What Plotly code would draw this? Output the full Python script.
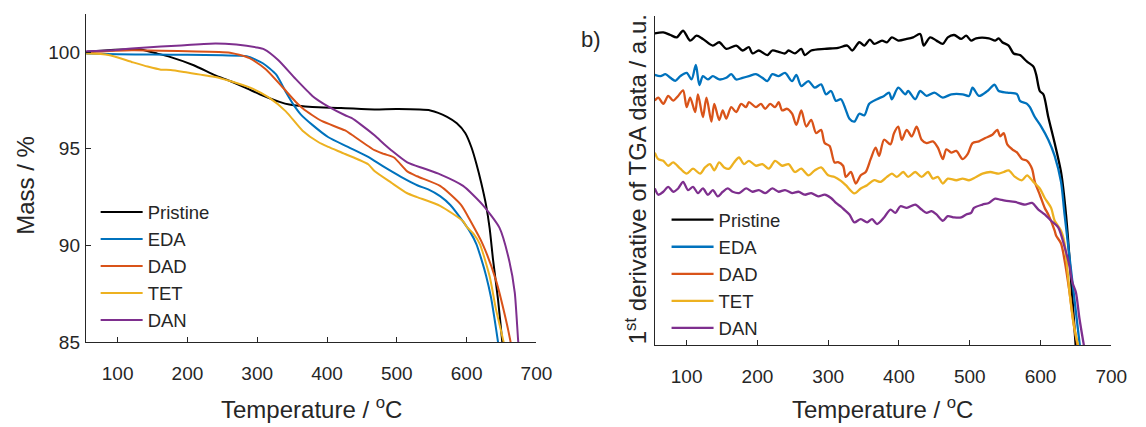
import plotly.graph_objects as go

FONT = "Liberation Sans, Arial, Helvetica, sans-serif"
TXT = "#262626"

names = ["Pristine", "EDA", "DAD", "TET", "DAN"]
colors = ["#000000", "#0072BD", "#D95319", "#EDB120", "#7E2F8E"]

# ---------- (a) TGA mass curves: temperature (degC) and mass (%) ----------
tga_pristine_T = [55, 96, 130, 157, 176, 209, 240, 261, 285, 308, 332, 346, 379, 420, 468, 500, 548, 572, 586, 598, 607, 614, 621, 628, 633, 638, 645, 651, 653]
tga_pristine_m = [100.02, 100.13, 100.15, 99.93, 99.75, 99.33, 98.8, 98.51, 98.13, 97.76, 97.43, 97.29, 97.16, 97.12, 97.04, 97.06, 96.99, 96.66, 96.32, 95.82, 95.07, 94.23, 93.23, 92.06, 90.89, 89.22, 87.21, 85.04, 84.3]

tga_eda_T = [55, 100, 150, 200, 250, 285, 308, 327, 341, 351, 362, 379, 402, 430, 459, 480, 506, 530, 545, 562, 577, 595, 605, 614, 621, 628, 635, 640, 645, 648]
tga_eda_m = [99.93, 99.9, 99.88, 99.87, 99.84, 99.8, 99.43, 98.85, 97.94, 97.34, 96.8, 96.24, 95.6, 95.1, 94.58, 94.1, 93.55, 93.1, 92.9, 92.55, 92.08, 91.23, 90.7, 90.07, 89.3, 88.42, 87.3, 86.2, 85.0, 84.3]

tga_dad_T = [55, 120, 200, 261, 289, 313, 336, 355, 365, 379, 393, 426, 435, 468, 482, 496, 515, 529, 562, 592, 605, 623, 642, 656, 663, 666]
tga_dad_m = [100.0, 100.1, 100.05, 99.98, 99.7, 99.1, 98.2, 97.44, 97.1, 96.74, 96.43, 95.95, 95.74, 94.93, 94.73, 94.55, 93.83, 93.58, 93.08, 92.1, 91.3, 90.07, 88.2, 86.2, 85.0, 84.3]

tga_tet_T = [55, 87, 120, 143, 162, 176, 200, 240, 261, 289, 317, 341, 365, 388, 402, 426, 459, 468, 492, 515, 529, 562, 595, 600, 610, 619, 633, 642, 653, 656]
tga_tet_m = [99.93, 99.86, 99.5, 99.26, 99.1, 99.08, 98.95, 98.72, 98.51, 98.18, 97.65, 96.94, 95.94, 95.34, 95.1, 94.73, 94.2, 93.85, 93.25, 92.7, 92.5, 92.05, 91.25, 90.97, 90.6, 90.07, 88.4, 86.7, 85.0, 84.3]

tga_dan_T = [55, 91, 120, 162, 191, 240, 270, 299, 310, 330, 355, 379, 388, 402, 426, 435, 449, 468, 482, 492, 515, 539, 562, 595, 623, 647, 661, 669, 674, 676]
tga_dan_m = [100.05, 100.1, 100.2, 100.3, 100.35, 100.46, 100.4, 100.25, 100.15, 99.6, 98.62, 97.74, 97.5, 97.19, 96.74, 96.6, 96.24, 95.7, 95.24, 94.93, 94.3, 93.98, 93.68, 93.08, 92.1, 90.92, 89.22, 87.56, 85.0, 84.3]

# ---------- (b) first derivative of TGA data (arbitrary units, offset) ----------
dtg_pristine_T = [55, 67, 77, 86, 95, 105, 114, 123, 137, 146, 156, 170, 179, 188, 193, 202, 214, 221, 230, 239, 244, 253, 262, 267, 276, 295, 314, 327, 334, 344, 351, 359, 365, 376, 383, 390, 399, 411, 420, 430, 435, 444, 453, 462, 469, 478, 488, 495, 502, 509, 527, 536, 541, 546, 555, 562, 571, 581, 590, 594, 599, 604, 611, 620, 629, 636, 650]
dtg_pristine_v = [94.6, 94.9, 94.1, 93.4, 95.4, 92.4, 93.9, 92.9, 90.9, 91.9, 89.9, 90.9, 89.4, 90.4, 88.5, 89.4, 88.0, 89.4, 89.0, 88.5, 89.4, 88.5, 89.9, 88.0, 89.4, 89.9, 90.2, 90.9, 89.4, 91.9, 90.9, 92.7, 91.4, 92.4, 91.9, 93.4, 92.4, 92.9, 93.4, 94.4, 90.9, 93.4, 92.4, 91.4, 93.4, 94.1, 92.9, 93.9, 92.4, 93.1, 93.1, 92.4, 93.1, 91.9, 90.9, 88.5, 88.0, 86.0, 84.5, 82.0, 77.1, 76.1, 69.2, 61.3, 52.5, 39.6, -1.0]

dtg_eda_T = [55, 63, 70, 77, 84, 91, 100, 107, 113, 118, 123, 130, 137, 146, 156, 163, 170, 179, 188, 198, 207, 214, 221, 230, 239, 249, 255, 262, 272, 281, 290, 297, 304, 311, 318, 325, 330, 337, 344, 351, 358, 369, 379, 386, 390, 399, 409, 413, 423, 430, 439, 450, 462, 474, 490, 499, 504, 513, 525, 535, 541, 553, 567, 571, 581, 585, 592, 601, 611, 620, 629, 634, 656]
dtg_eda_v = [82.0, 81.6, 82.2, 81.1, 80.2, 81.6, 82.6, 80.6, 85.0, 78.9, 81.6, 80.6, 81.6, 80.6, 81.1, 82.2, 80.6, 81.1, 81.6, 82.2, 81.1, 80.1, 82.2, 81.6, 82.6, 80.1, 82.0, 78.6, 80.1, 78.1, 79.1, 76.1, 77.1, 74.1, 74.6, 71.3, 68.7, 67.8, 70.2, 69.7, 73.2, 74.6, 75.6, 76.6, 74.6, 78.1, 76.1, 77.1, 74.6, 77.1, 75.6, 76.6, 75.1, 76.1, 76.1, 75.6, 78.1, 75.6, 77.1, 79.0, 77.1, 76.6, 76.1, 74.1, 73.2, 72.2, 69.2, 66.3, 62.3, 57.4, 49.5, 39.6, -1.0]

dtg_dad_T = [55, 60, 67, 74, 81, 88, 95, 100, 105, 112, 116, 123, 128, 135, 139, 146, 151, 156, 163, 170, 177, 184, 188, 198, 205, 211, 218, 225, 230, 235, 242, 249, 255, 262, 269, 276, 283, 290, 295, 302, 309, 314, 321, 325, 332, 339, 346, 353, 360, 367, 372, 379, 388, 393, 399, 404, 411, 418, 425, 432, 439, 448, 455, 462, 467, 474, 481, 490, 497, 504, 513, 522, 532, 539, 543, 548, 553, 560, 567, 574, 581, 588, 592, 599, 606, 611, 620, 622, 629, 634, 641, 647, 653]
dtg_dad_v = [74.2, 75.1, 73.2, 75.6, 74.2, 75.6, 77.3, 72.2, 75.1, 70.7, 76.1, 69.2, 75.1, 67.8, 73.2, 68.3, 71.2, 68.7, 72.2, 70.7, 73.2, 72.2, 73.7, 72.2, 73.2, 71.7, 73.2, 72.2, 73.7, 71.2, 71.7, 70.2, 66.8, 71.2, 66.3, 68.3, 64.3, 65.3, 61.3, 60.4, 55.4, 55.5, 54.4, 51.0, 52.5, 49.0, 51.5, 52.5, 56.4, 59.9, 57.4, 62.3, 60.9, 64.3, 66.3, 62.3, 65.3, 63.3, 66.3, 62.3, 61.3, 61.8, 59.9, 56.4, 59.4, 58.4, 58.9, 56.4, 57.9, 61.3, 61.8, 62.8, 63.8, 65.3, 63.3, 64.3, 60.9, 59.4, 58.4, 56.4, 55.9, 53.5, 49.5, 45.6, 41.6, 39.6, 34.7, 33.2, 30.8, 25.7, 16.0, 6.2, -1.0]

dtg_tet_T = [55, 60, 67, 74, 81, 91, 100, 109, 119, 126, 133, 139, 146, 153, 160, 167, 174, 181, 188, 198, 207, 216, 225, 235, 244, 253, 262, 272, 281, 290, 300, 309, 318, 325, 337, 346, 355, 365, 374, 383, 390, 397, 406, 413, 423, 432, 441, 448, 455, 462, 469, 481, 490, 499, 509, 518, 529, 541, 548, 555, 564, 574, 581, 590, 599, 606, 615, 620, 629, 634, 641, 647, 654]
dtg_tet_v = [58.4, 56.4, 55.9, 54.4, 55.4, 53.5, 52.0, 53.5, 52.0, 53.9, 54.9, 53.0, 55.4, 53.9, 53.5, 55.4, 56.9, 54.9, 55.9, 54.4, 54.9, 53.5, 55.9, 54.4, 54.9, 52.5, 53.5, 51.5, 53.0, 53.9, 51.5, 51.0, 49.8, 48.5, 46.0, 47.5, 48.5, 50.0, 49.5, 51.0, 52.0, 51.0, 52.5, 51.0, 52.5, 51.0, 52.5, 50.5, 51.0, 49.0, 50.5, 50.0, 50.5, 50.0, 51.0, 52.0, 52.5, 52.0, 52.5, 53.0, 51.0, 50.0, 51.5, 49.5, 47.5, 44.6, 41.6, 37.7, 34.7, 30.8, 16.0, 6.1, -1.0]

dtg_dan_T = [55, 60, 67, 74, 81, 88, 95, 102, 109, 116, 123, 130, 137, 144, 151, 158, 165, 174, 184, 193, 202, 211, 221, 230, 239, 249, 258, 267, 276, 286, 295, 304, 311, 318, 323, 330, 337, 346, 355, 362, 369, 379, 388, 395, 402, 411, 423, 432, 439, 446, 453, 462, 469, 478, 488, 495, 502, 506, 518, 527, 536, 543, 550, 564, 578, 588, 597, 606, 615, 625, 634, 641, 645, 650, 655, 662]
dtg_dan_v = [47.5, 45.6, 46.5, 48.0, 46.5, 47.5, 49.5, 47.0, 48.0, 46.1, 47.5, 45.6, 47.0, 45.1, 46.5, 47.5, 46.5, 46.1, 47.5, 46.5, 47.0, 46.1, 47.5, 46.5, 47.0, 46.1, 46.5, 45.6, 46.1, 45.1, 45.6, 44.6, 43.1, 42.0, 41.0, 39.6, 37.2, 38.2, 37.2, 38.2, 36.7, 38.7, 41.1, 40.1, 42.1, 41.6, 42.6, 41.1, 40.1, 40.6, 39.6, 37.7, 39.1, 38.7, 38.7, 39.6, 40.1, 41.6, 42.6, 43.1, 44.4, 44.1, 43.8, 43.4, 42.6, 43.1, 41.1, 39.6, 37.7, 35.7, 29.8, 23.9, 19.0, 16.0, 8.1, -1.0]

x_ticks = [100, 200, 300, 400, 500, 600, 700]
tga_ticks = [85, 90, 95, 100]

tga = [(tga_pristine_T, tga_pristine_m), (tga_eda_T, tga_eda_m), (tga_dad_T, tga_dad_m),
       (tga_tet_T, tga_tet_m), (tga_dan_T, tga_dan_m)]
dtg = [(dtg_pristine_T, dtg_pristine_v), (dtg_eda_T, dtg_eda_v), (dtg_dad_T, dtg_dad_v),
       (dtg_tet_T, dtg_tet_v), (dtg_dan_T, dtg_dan_v)]

fig = go.Figure()
for name, col, (T, m) in zip(names, colors, tga):
    fig.add_trace(go.Scatter(x=T, y=m, mode="lines", name=name,
                             line=dict(color=col, width=2, shape="spline", smoothing=0.6),
                             xaxis="x", yaxis="y", legend="legend"))
for name, col, (T, v) in zip(names, colors, dtg):
    fig.add_trace(go.Scatter(x=T, y=v, mode="lines", name=name,
                             line=dict(color=col, width=2.3, shape="spline", smoothing=0.8),
                             xaxis="x2", yaxis="y2", legend="legend2"))

W, H = 1146, 427
axis_common = dict(showline=True, linecolor=TXT, linewidth=1, showgrid=False, zeroline=False,
                   ticks="inside", ticklen=5, tickwidth=1, tickcolor=TXT,
                   tickfont=dict(family=FONT, size=19, color=TXT), mirror=False)
TITLE_FONT = dict(size=24, family=FONT, color=TXT)

fig.update_layout(
    width=W, height=H, margin=dict(l=0, r=0, t=0, b=0),
    paper_bgcolor="white", plot_bgcolor="white",
    font=dict(family=FONT, color=TXT),
    xaxis=dict(domain=[87 / W, 544 / W], range=[54.4, 700], tickvals=x_ticks, anchor="y",
               ticklabelstandoff=14, **axis_common),
    yaxis=dict(domain=[76 / H, 413 / H], range=[85, 102], tickvals=tga_ticks, anchor="x",
               ticklabelstandoff=1, **axis_common),
    xaxis2=dict(domain=[664 / W, 1127 / W], range=[54.9, 700], tickvals=x_ticks, anchor="y2",
                ticklabelstandoff=14, **axis_common),
    yaxis2=dict(domain=[73 / H, 411 / H], range=[0, 100], anchor="x2", showline=True, linecolor=TXT,
                linewidth=1, showgrid=False, zeroline=False, ticks="", showticklabels=False),
    legend=dict(x=97 / W, y=(H - 198.5) / H, xanchor="left", yanchor="top", bgcolor="rgba(0,0,0,0)",
                borderwidth=0, font=dict(family=FONT, size=18.5, color=TXT), itemwidth=42, tracegroupgap=0),
    legend2=dict(x=676 / W, y=(H - 206.5) / H, xanchor="left", yanchor="top", bgcolor="rgba(0,0,0,0)",
                 borderwidth=0, font=dict(family=FONT, size=18.5, color=TXT), itemwidth=42, tracegroupgap=0),
    annotations=[
        dict(text="Mass / %", x=25 / W, y=(H - 190) / H, xref="paper", yref="paper", textangle=-90,
             showarrow=False, xanchor="center", yanchor="middle", font=TITLE_FONT),
        dict(text="Temperature / <sup>o</sup>C", x=315.5 / W, y=(H - 419) / H, xref="paper", yref="paper",
             showarrow=False, xanchor="center", yanchor="middle", font=TITLE_FONT),
        dict(text="Temperature / <sup>o</sup>C", x=895.5 / W, y=(H - 419) / H, xref="paper", yref="paper",
             showarrow=False, xanchor="center", yanchor="middle", font=TITLE_FONT),
        dict(text="1<sup>st</sup> derivative of TGA data / a.u.", x=645 / W, y=(H - 184) / H, xref="paper",
             yref="paper", textangle=-90, showarrow=False, xanchor="center", yanchor="middle",
             font=TITLE_FONT),
        dict(text="b)", x=599 / W, y=(H - 41) / H, xref="paper", yref="paper", showarrow=False,
             xanchor="center", yanchor="middle", font=dict(size=22, family=FONT, color=TXT)),
    ],
)

fig.write_html("out.html")
